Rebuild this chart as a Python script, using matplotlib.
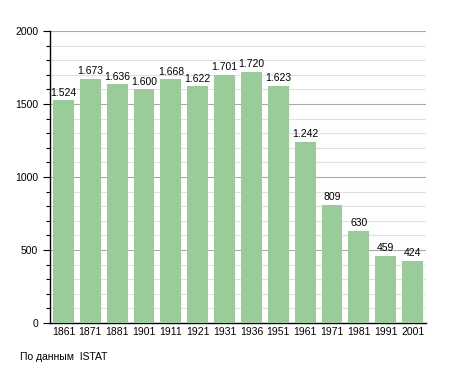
import matplotlib
matplotlib.use("Agg")
import matplotlib.pyplot as plt
from matplotlib.ticker import MultipleLocator

years = ["1861", "1871", "1881", "1901", "1911", "1921", "1931", "1936", "1951", "1961", "1971", "1981", "1991", "2001"]
population = [1524, 1673, 1636, 1600, 1668, 1622, 1701, 1720, 1623, 1242, 809, 630, 459, 424]
labels = ["1.524", "1.673", "1.636", "1.600", "1.668", "1.622", "1.701", "1.720", "1.623", "1.242", "809", "630", "459", "424"]

plt.rcParams['font.family'] = ['Liberation Sans', 'DejaVu Sans']

fig = plt.figure(figsize=(4.55, 3.73), dpi=100)
ax = fig.add_axes([50/455, 1-323/373, 376/455, 292/373])

x = list(range(len(years)))
ax.bar(x, population, width=0.78, color='#99cc99', zorder=3)
for xi, v, lab in zip(x, population, labels):
    ax.text(xi, v + 18, lab, ha='center', va='bottom', fontsize=7.5, zorder=4)

ax.set_xlim(-0.5, len(years) - 0.5)
ax.set_ylim(0, 2000)
ax.set_xticks(x)
ax.set_xticklabels(years, fontsize=7.5)
ax.yaxis.set_major_locator(MultipleLocator(500))
ax.yaxis.set_minor_locator(MultipleLocator(100))
ax.tick_params(axis='y', which='major', labelsize=7.5, length=5, width=0.8)
ax.tick_params(axis='y', which='minor', length=3, width=0.8)
ax.tick_params(axis='x', length=0, pad=3)
ax.grid(axis='y', which='major', color='#aaaaaa', linewidth=0.8, zorder=0)
ax.grid(axis='y', which='minor', color='#e0e0e0', linewidth=0.8, zorder=0)
for s in ['top', 'right']:
    ax.spines[s].set_visible(False)
ax.spines['left'].set_linewidth(1.0)
ax.spines['bottom'].set_linewidth(1.0)

fig.text(20/455, 1-357/373, "По данным  ISTAT", fontsize=7.5, va='center', ha='left')

fig.savefig("out.png", dpi=100)
